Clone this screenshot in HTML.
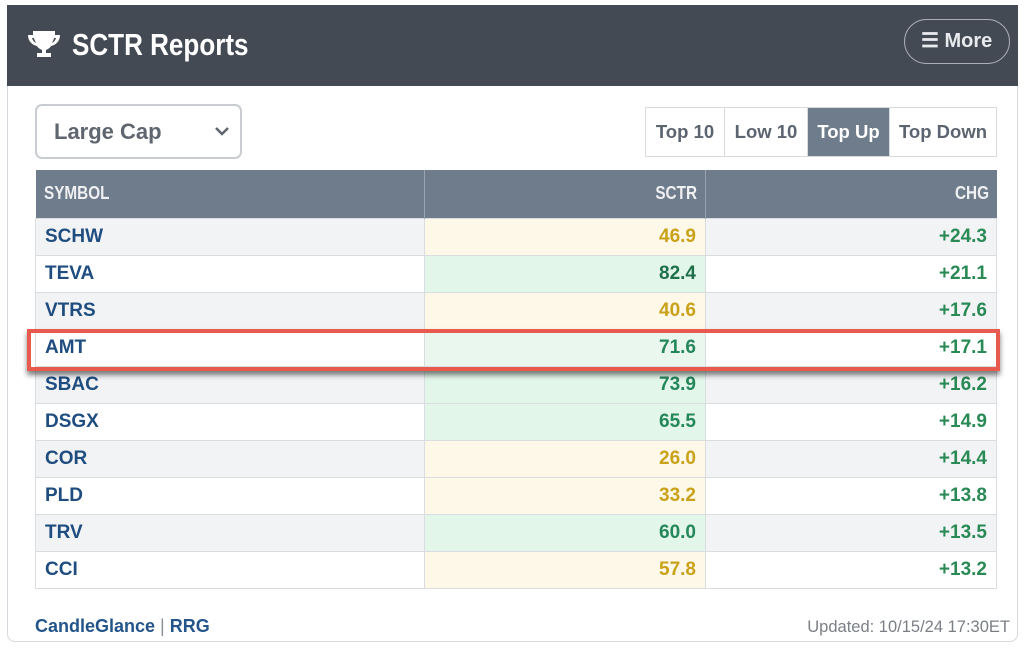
<!DOCTYPE html>
<html><head><meta charset="utf-8"><style>
*{box-sizing:border-box;margin:0;padding:0}
body{width:1024px;height:648px;background:#fff;font-family:"Liberation Sans",sans-serif;position:relative;overflow:hidden}
.card{position:absolute;left:7px;top:5px;width:1011px;height:637px;border:1px solid #d5d8dc;border-top:none;border-radius:0 0 8px 8px}
.hdr{position:absolute;left:7px;top:5px;width:1011px;height:81px;background:#434a54}
.title{position:absolute;left:72px;top:27px;color:#fff;font-weight:bold;font-size:31px;transform:scaleX(0.84);transform-origin:0 0;white-space:nowrap}
.more{position:absolute;left:904px;top:19px;width:106px;height:45px;border:1.5px solid #a9aeb5;border-radius:23px;color:#e8eaed;font-weight:bold;font-size:20px;line-height:42px;padding-left:16px}
.dd{position:absolute;left:35px;top:104px;width:207px;height:55px;border:2px solid #c9cdd2;border-radius:7px;color:#5f6670;font-weight:bold;font-size:22px;line-height:51px;padding-left:17px}
.btns{position:absolute;left:645px;top:107px;height:50px;display:flex;border:1px solid #d9dcdf}
.btns div{height:48px;line-height:48px;font-size:18.5px;font-weight:bold;color:#5c6470;text-align:center;border-left:1px solid #d9dcdf}
.btns div:first-child{border-left:none}
.btns .a{background:#6f7c8b;color:#fff}
table{position:absolute;left:35px;top:170px;border-collapse:collapse;width:962px}
th{background:#6f7c8b;color:#eef0f2;height:48px;font-weight:bold;font-size:18px;padding:0 8px;border-right:1px solid #9aa4b0}
th span{display:inline-block;transform:scaleX(0.85)}
th.l span{transform-origin:0 50%}
th.r span{transform-origin:100% 50%}
td{height:37px;border:1px solid #dadde0;font-weight:bold;font-size:19px;padding:0 9px}
td.s{color:#1f4d80;text-align:left}
td.y{background:#fdf8e7;color:#c9a21a;text-align:right}
td.g{background:#e3f6ea;color:#24875a;text-align:right}
td.c{color:#2a8a55;text-align:right}
tr.o td.s,tr.o td.c{background:#f2f3f5}
.hl{position:absolute;left:27px;top:329px;width:973px;height:42px;border:4px solid #e8594e;box-shadow:0 4px 5px rgba(0,0,0,.5)}
.foot{position:absolute;left:35px;top:616px;color:#24558a;font-weight:bold;font-size:18px}
.upd{position:absolute;right:14px;top:618px;color:#7a7f86;font-size:16.5px}
</style></head><body>
<div class="card"></div>
<div class="hdr"></div>
<svg style="position:absolute;left:27px;top:29px" width="34" height="30" viewBox="0 0 34 30"><path d="M6 2h22v4h5c0 6-4 10-9 11-1 2-3 3-5 4v3h5v4H10v-4h5v-3c-2-1-4-2-5-4C5 16 1 12 1 6h5zM5 9c1 3 2 4 4 5-1-2-2-4-2-5zM29 9h-2c0 1-1 3-2 5 2-1 3-2 4-5z" fill="#fff"/></svg>
<div class="title">SCTR Reports</div>
<div class="more">☰ More</div>
<div class="dd">Large Cap<svg style="position:absolute;left:177px;top:20px" width="16" height="11" viewBox="0 0 16 11"><path d="M2 2l6 6 6-6" stroke="#5f6670" stroke-width="2.5" fill="none"/></svg></div>
<div class="btns"><div style="width:78px">Top 10</div><div style="width:83px">Low 10</div><div class="a" style="width:82px">Top Up</div><div style="width:107px">Top Down</div></div>
<table>
<tr><th class="l" style="width:389px;text-align:left"><span>SYMBOL</span></th><th class="r" style="width:281px;text-align:right"><span>SCTR</span></th><th class="r" style="text-align:right;border-right:none"><span>CHG</span></th></tr>
<tr class="o"><td class="s">SCHW</td><td class="y">46.9</td><td class="c">+24.3</td></tr>
<tr><td class="s">TEVA</td><td class="g" style="color:#1e7049">82.4</td><td class="c">+21.1</td></tr>
<tr class="o"><td class="s">VTRS</td><td class="y">40.6</td><td class="c">+17.6</td></tr>
<tr><td class="s">AMT</td><td class="g" style="background:#eaf7ef">71.6</td><td class="c">+17.1</td></tr>
<tr class="o"><td class="s">SBAC</td><td class="g">73.9</td><td class="c">+16.2</td></tr>
<tr><td class="s">DSGX</td><td class="g">65.5</td><td class="c">+14.9</td></tr>
<tr class="o"><td class="s">COR</td><td class="y">26.0</td><td class="c">+14.4</td></tr>
<tr><td class="s">PLD</td><td class="y">33.2</td><td class="c">+13.8</td></tr>
<tr class="o"><td class="s">TRV</td><td class="g">60.0</td><td class="c">+13.5</td></tr>
<tr><td class="s">CCI</td><td class="y">57.8</td><td class="c">+13.2</td></tr>
</table>
<div class="hl"></div>
<div class="foot">CandleGlance <span style="color:#8a9099;font-weight:normal">|</span> RRG</div>
<div class="upd">Updated: 10/15/24 17:30ET</div>
</body></html>
